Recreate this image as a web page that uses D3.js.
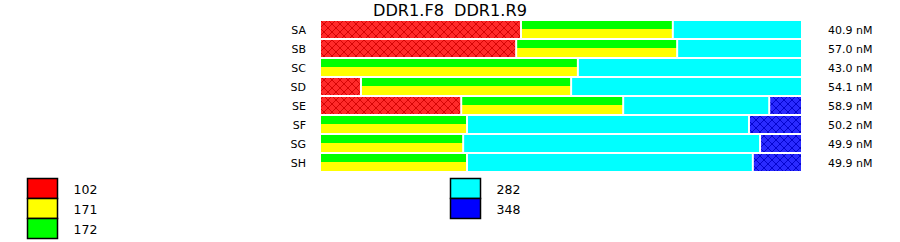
<!DOCTYPE html>
<html>
<head>
<meta charset="utf-8">
<script src="https://cdn.jsdelivr.net/npm/d3@7"></script>
<style>
  body { margin: 0; background: #fff; }
  text { font-family: "DejaVu Sans", Verdana, sans-serif; fill: #000; }
</style>
</head>
<body>
<svg width="900" height="242"></svg>
<script>
// rows and their labels
var samples = ["SA", "SB", "SC", "SD", "SE", "SF", "SG", "SH"];
var concLabels = ["40.9 nM", "57.0 nM", "43.0 nM", "54.1 nM", "58.9 nM", "50.2 nM", "49.9 nM", "49.9 nM"];

// percent of each row
var v102 = [41.7, 40.7, 0, 8.5, 29.3, 0, 0, 0];
var v171_172 = [31.5, 33.4, 53.5, 43.6, 33.6, 30.5, 29.7, 30.5];
var v282 = [26.8, 25.9, 46.5, 47.9, 30.3, 58.5, 61.6, 59.3];
var v348 = [0, 0, 0, 0, 6.8, 11.0, 8.7, 10.2];

var legendLeft = ["102", "171", "172"];
var legendRight = ["282", "348"];

var svg = d3.select('svg');

var colors = {"102": "#ff0000", "171": "#ffff00", "172": "#00ff00", "282": "#00ffff", "348": "#0000ff"};

// hatch patterns for 102 and 348 bars
var defs = svg.append('defs');
function hatch(id, bg, line) {
    var p = defs.append('pattern').attr('id', id).attr('patternUnits', 'userSpaceOnUse')
        .attr('width', 8).attr('height', 8);
    p.append('rect').attr('width', 8).attr('height', 8).attr('fill', bg);
    p.append('path').attr('d', 'M0,4 L4,0 L8,4 L4,8 Z').attr('fill', 'none')
        .attr('stroke', line).attr('stroke-width', 0.9);
}
hatch('hatch-red', '#ff2a2a', '#d00000');
hatch('hatch-blue', '#2a2aff', '#0000c8');

var x = d3.scaleLinear().domain([0, 100]).range([321, 803]);
var y = d3.scaleBand().domain(samples).range([21, 171]).paddingInner(2 / 19).paddingOuter(0);
var bh = y.bandwidth();

// build segments per row
var segs = [];
samples.forEach(function(s, i) {
    var parts = [
        {key: "102", v: v102[i]},
        {key: "171_172", v: v171_172[i]},
        {key: "282", v: v282[i]},
        {key: "348", v: v348[i]}
    ];
    var acc = 0;
    parts.forEach(function(p) {
        if (p.v > 0) {
            segs.push({sample: s, key: p.key, x0: acc, x1: acc + p.v});
        }
        acc += p.v;
    });
});

var barG = svg.append('g').attr('class', 'bars');

segs.forEach(function(d) {
    var left = x(d.x0);
    var w = x(d.x1) - x(d.x0) - 2;
    var top = y(d.sample);
    if (d.key === "171_172") {
        var half = Math.floor(bh / 2);
        barG.append('rect').attr('x', left).attr('y', top).attr('width', w).attr('height', half)
            .attr('fill', colors["172"]);
        barG.append('rect').attr('x', left).attr('y', top + half).attr('width', w).attr('height', bh - half)
            .attr('fill', colors["171"]);
    } else {
        var fill = d.key === "102" ? 'url(#hatch-red)' : d.key === "348" ? 'url(#hatch-blue)' : colors[d.key];
        barG.append('rect').attr('x', left).attr('y', top).attr('width', w).attr('height', bh)
            .attr('fill', fill);
    }
});

// row labels
svg.append('g').selectAll('text').data(samples).enter().append('text')
    .attr('x', 306).attr('y', d => y(d) + bh / 2 + 4)
    .attr('text-anchor', 'end').attr('font-size', '11px').text(d => d);

svg.append('g').selectAll('text').data(concLabels).enter().append('text')
    .attr('x', 828).attr('y', (d, i) => y(samples[i]) + bh / 2 + 4)
    .attr('font-size', '11px').text(d => d);

// title
svg.append('text').attr('x', 373).attr('y', 16).attr('font-size', '15px')
    .attr('textLength', 71).attr('lengthAdjust', 'spacingAndGlyphs').text('DDR1.F8');
svg.append('text').attr('x', 454).attr('y', 16).attr('font-size', '15px')
    .attr('textLength', 73).attr('lengthAdjust', 'spacingAndGlyphs').text('DDR1.R9');

// legends
function legend(items, lx, ly) {
    var g = svg.append('g').attr('transform', 'translate(' + lx + ',' + ly + ')');
    var ent = g.selectAll('.leg').data(items).enter().append('g').attr('class', 'leg')
        .attr('transform', (d, i) => 'translate(0,' + (i * 20) + ')');
    ent.append('rect').attr('x', 0).attr('y', 0).attr('width', 30).attr('height', 20)
        .attr('fill', d => colors[d]).attr('stroke', '#000').attr('stroke-width', 1.5);
    ent.append('text').attr('x', 46).attr('y', 15).attr('font-size', '12.5px').text(d => d);
}
legend(legendLeft, 27.5, 178.5);
legend(legendRight, 450.5, 178.5);
</script>
</body>
</html>
